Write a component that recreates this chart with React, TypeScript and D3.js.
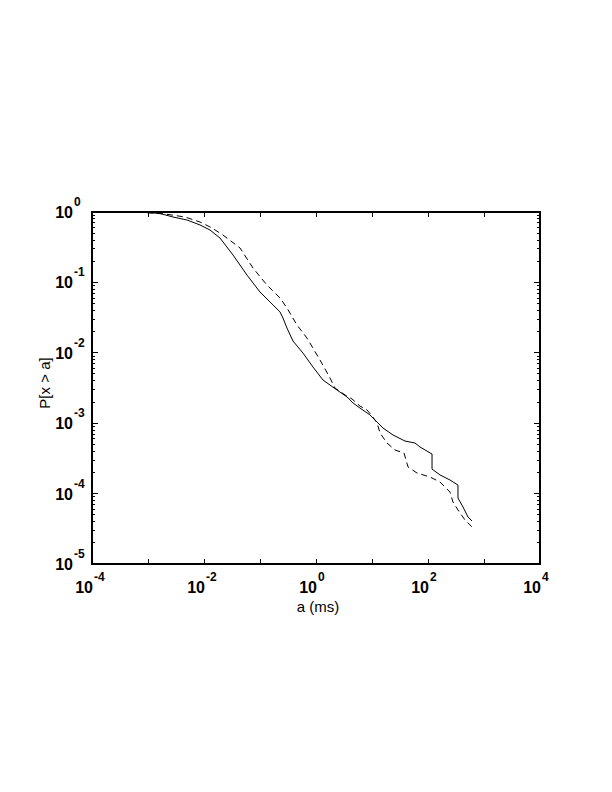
import React from "react";
import * as d3 from "d3";

// solid curve: a (ms) vs P[x > a]
const solidA = [0.00096, 0.00164, 0.00279, 0.00497, 0.00849, 0.0128, 0.0193, 0.033, 0.0586, 0.1, 0.171, 0.228, 0.257, 0.303, 0.388, 0.586, 0.884, 1.33, 2.37, 3.58, 4.58, 6.1, 9.2, 12.3, 15.7, 23.7, 38.8, 58.6, 72, 118, 118, 164, 247, 343, 343, 422, 518, 611];
const solidP = [0.98, 0.953, 0.849, 0.77, 0.654, 0.555, 0.427, 0.245, 0.127, 0.073, 0.0478, 0.038, 0.0312, 0.0225, 0.0147, 0.0099, 0.00628, 0.00411, 0.00296, 0.00236, 0.00194, 0.00164, 0.00131, 0.00104, 0.000855, 0.00068, 0.000558, 0.000523, 0.000459, 0.000365, 0.000223, 0.000184, 0.000156, 0.000132, 0.0000865, 0.0000645, 0.0000465, 0.0000408];

// dashed curve
const dashA = [0.00096, 0.00201, 0.00458, 0.00849, 0.0139, 0.0218, 0.044, 0.075, 0.133, 0.228, 0.303, 0.458, 0.69, 1.18, 1.78, 2.18, 3.3, 4.4, 6.1, 8.15, 10, 12.3, 13.9, 18.5, 25.7, 37.3, 44, 63.6, 109, 164, 247, 279, 343, 458, 611];
const dashP = [0.98, 0.937, 0.849, 0.721, 0.593, 0.471, 0.308, 0.16, 0.0918, 0.06, 0.0433, 0.0248, 0.0162, 0.0079, 0.00439, 0.00316, 0.00252, 0.00221, 0.00175, 0.00154, 0.00127, 0.00101, 0.000726, 0.000523, 0.000416, 0.000377, 0.000239, 0.000196, 0.000172, 0.000146, 0.000105, 0.000076, 0.0000585, 0.0000422, 0.0000336];

const xDecades = [-4, -3, -2, -1, 0, 1, 2, 3, 4];
const xLabelExps = [-4, -2, 0, 2, 4];
const yLabelExps = [0, -1, -2, -3, -4, -5];

const W = 612, H = 792;
const left = 92, right = 540, top = 212, bottom = 564;

export default function App() {
  const x = d3.scaleLog().domain([1e-4, 1e4]).range([left, right]);
  const y = d3.scaleLog().domain([1e-5, 1]).range([bottom, top]);

  const line = d3.line<[number, number]>().x(d => x(d[0])).y(d => y(d[1]));
  const solid = line(solidA.map((a, i) => [a, solidP[i]]));
  const dashed = line(dashA.map((a, i) => [a, dashP[i]]));

  const yTicks = y.ticks();
  const font = "Liberation Sans, Arial, Helvetica, sans-serif";

  return (
    <svg width={W} height={H} style={{ position: "absolute", left: 0, top: 0, background: "#fff" }}>
      <rect x={0} y={0} width={W} height={H} fill="#fff" />
      <g stroke="#000" fill="none" shapeRendering="crispEdges">
        <rect x={left} y={top} width={right - left} height={bottom - top} strokeWidth={2} />
        {xDecades.map(e => (
          <g key={"xt" + e}>
            <line x1={x(Math.pow(10, e))} x2={x(Math.pow(10, e))} y1={bottom} y2={bottom - 5} />
            <line x1={x(Math.pow(10, e))} x2={x(Math.pow(10, e))} y1={top} y2={top + 5} />
          </g>
        ))}
        {yTicks.map((t, i) => {
          const major = Math.abs(Math.log10(t) - Math.round(Math.log10(t))) < 1e-9;
          const len = major ? 6 : 3;
          return (
            <g key={"yt" + i}>
              <line x1={left} x2={left + len} y1={y(t)} y2={y(t)} />
              <line x1={right} x2={right - len} y1={y(t)} y2={y(t)} />
            </g>
          );
        })}
      </g>
      <path d={solid || ""} fill="none" stroke="#000" strokeWidth={1} />
      <path d={dashed || ""} fill="none" stroke="#000" strokeWidth={1} strokeDasharray="6,4" />
      <g fontFamily={font} fontWeight="bold" fill="#000">
        {xLabelExps.map(e => (
          <g key={"xl" + e}>
            <text x={x(Math.pow(10, e)) + 1} y={593} fontSize={16} textAnchor="end">10</text>
            <text x={x(Math.pow(10, e)) + 2} y={581} fontSize={12}>{e}</text>
          </g>
        ))}
        {yLabelExps.map(e => (
          <g key={"yl" + e}>
            <text x={73} y={y(Math.pow(10, e)) + 6} fontSize={16} textAnchor="end">10</text>
            <text x={74} y={y(Math.pow(10, e)) - 6} fontSize={12}>{e}</text>
          </g>
        ))}
      </g>
      <text x={(left + right) / 2 + 2} y={612} fontFamily={font} fontSize={15} textAnchor="middle">a (ms)</text>
      <text transform={`translate(50,${383}) rotate(-90)`} fontFamily={font} fontSize={15} textAnchor="middle">P[x &gt; a]</text>
    </svg>
  );
}
